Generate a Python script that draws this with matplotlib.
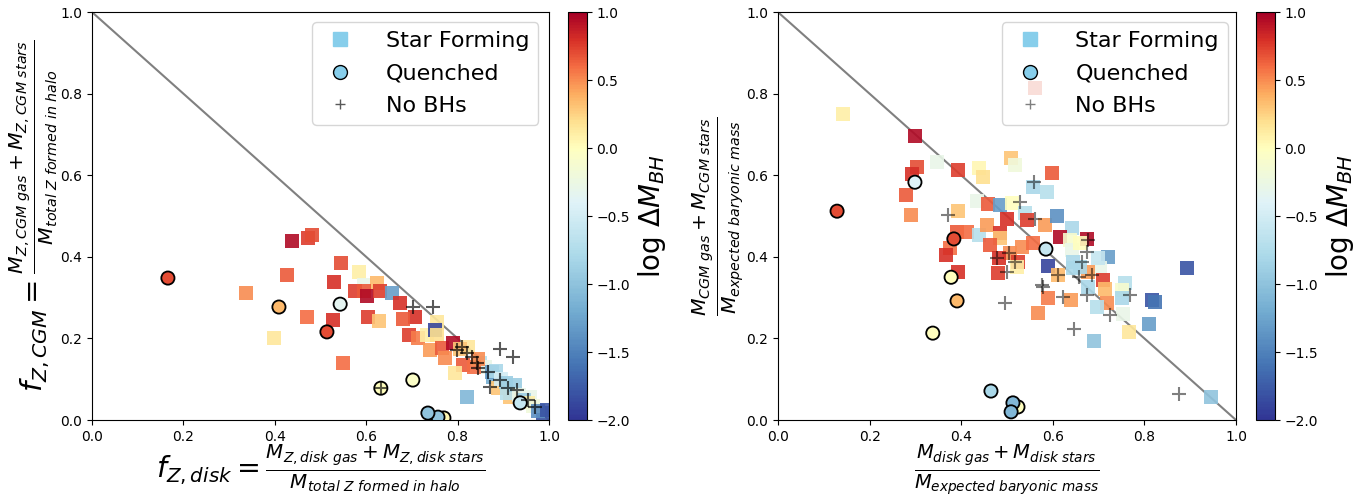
import matplotlib
matplotlib.use('Agg')
import matplotlib.pyplot as plt
import numpy as np
from matplotlib.colors import ListedColormap
from matplotlib.lines import Line2D

# ---- left panel: metal fractions ----
# star forming (squares): x, y, log dM_BH
sf_z_x = [0.337, 0.398, 0.438, 0.473, 0.481, 0.427, 0.470, 0.545, 0.530, 0.527,
          0.549, 0.584, 0.595, 0.623, 0.575, 0.595, 0.601, 0.630, 0.656, 0.604,
          0.628, 0.674, 0.707, 0.680, 0.694, 0.713, 0.733, 0.755, 0.750, 0.755,
          0.740, 0.766, 0.772, 0.790, 0.823, 0.812, 0.794, 0.877, 0.888, 0.915,
          0.820, 0.958, 0.908, 0.926, 0.987, 0.850, 0.860, 0.875, 0.885, 0.895,
          0.905, 0.935, 0.945, 0.955, 0.965, 0.975, 0.995, 0.835, 0.845, 0.805]
sf_z_y = [0.311, 0.201, 0.439, 0.446, 0.453, 0.355, 0.252, 0.385, 0.338, 0.245,
          0.140, 0.363, 0.331, 0.336, 0.316, 0.316, 0.304, 0.316, 0.311, 0.252,
          0.243, 0.287, 0.252, 0.248, 0.208, 0.201, 0.208, 0.240, 0.221, 0.208,
          0.172, 0.176, 0.152, 0.189, 0.179, 0.135, 0.115, 0.105, 0.078, 0.056,
          0.056, 0.056, 0.066, 0.086, 0.017, 0.140, 0.130, 0.118, 0.120, 0.100,
          0.092, 0.062, 0.050, 0.043, 0.035, 0.022, 0.025, 0.130, 0.150, 0.175]
sf_z_c = [0.5, 0.15, 0.95, 0.75, 0.7, 0.65, 0.6, 0.7, 0.8, 0.8,
          0.6, 0.1, -0.3, 0.35, 0.75, 0.65, 0.95, 0.75, -1.3, 0.75,
          0.3, 0.8, 0.8, 0.65, 0.75, 0.55, 0.1, 0.15, -1.9, 0.2,
          0.45, 0.65, 0.5, 0.95, 0.15, 0.65, 0.15, -1.2, 0.3, 0.3,
          -1.1, -0.3, -0.7, -0.9, -1.8, -0.7, -0.3, -1.3, -0.8, -0.5,
          -0.9, -0.3, -0.9, 0.1, -0.2, -1.4, -1.8, 0.6, 0.5, 0.3]

# quenched (circles)
q_z_x = [0.166, 0.409, 0.514, 0.543, 0.632, 0.702, 0.770, 0.757, 0.735, 0.937]
q_z_y = [0.348, 0.277, 0.216, 0.284, 0.078, 0.098, 0.005, 0.007, 0.017, 0.042]
q_z_c = [0.7, 0.35, 0.7, -0.35, 0.0, -0.05, 0.05, -1.0, -1.0, -0.6]

# no BHs (plus)
nb_z_x = [0.702, 0.746, 0.798, 0.820, 0.831, 0.842, 0.845, 0.866, 0.893, 0.871,
          0.910, 0.930, 0.893, 0.921, 0.969, 0.632, 0.810, 0.955]
nb_z_y = [0.277, 0.277, 0.172, 0.164, 0.154, 0.140, 0.127, 0.118, 0.098, 0.081,
          0.078, 0.074, 0.174, 0.154, 0.032, 0.078, 0.180, 0.050]

# ---- right panel: baryonic mass fractions ----
sf_b_x = [0.142, 0.299, 0.347, 0.303, 0.293, 0.279, 0.290, 0.393, 0.439, 0.448,
          0.509, 0.517, 0.598, 0.557, 0.587, 0.434, 0.459, 0.485, 0.511, 0.539,
          0.393, 0.500, 0.544, 0.583, 0.609, 0.642, 0.616, 0.638, 0.391, 0.413,
          0.439, 0.456, 0.485, 0.485, 0.376, 0.367, 0.463, 0.507, 0.533, 0.557,
          0.483, 0.480, 0.524, 0.522, 0.590, 0.393, 0.611, 0.644, 0.675, 0.642,
          0.720, 0.644, 0.703, 0.699, 0.677, 0.710, 0.758, 0.677, 0.714, 0.751,
          0.751, 0.817, 0.823, 0.590, 0.640, 0.718, 0.697, 0.753, 0.810, 0.766,
          0.893, 0.568, 0.690, 0.945, 0.561, 0.659, 0.660]
sf_b_y = [0.750, 0.696, 0.632, 0.620, 0.603, 0.551, 0.502, 0.613, 0.618, 0.596,
          0.642, 0.625, 0.605, 0.571, 0.559, 0.537, 0.529, 0.527, 0.532, 0.507,
          0.512, 0.493, 0.490, 0.478, 0.500, 0.471, 0.449, 0.441, 0.461, 0.461,
          0.453, 0.478, 0.458, 0.446, 0.422, 0.404, 0.429, 0.409, 0.424, 0.434,
          0.397, 0.360, 0.387, 0.375, 0.377, 0.363, 0.355, 0.372, 0.444, 0.417,
          0.400, 0.387, 0.372, 0.397, 0.363, 0.343, 0.336, 0.326, 0.321, 0.319,
          0.299, 0.294, 0.289, 0.299, 0.294, 0.287, 0.277, 0.260, 0.235, 0.216,
          0.372, 0.262, 0.194, 0.056, 0.814, 0.375, 0.435]
sf_b_c = [0.1, 0.95, -0.3, 0.7, 0.8, 0.65, 0.5, 0.75, 0.05, 0.2,
          0.3, -0.2, 0.65, -0.8, -0.7, -0.3, 0.65, -1.3, 0.0, -0.7,
          0.3, 0.8, 0.75, 0.45, -1.4, -0.8, 0.95, -0.1, 0.65, 0.6,
          -0.7, 0.45, 0.8, 0.3, 0.6, 0.8, 0.65, 0.5, 0.5, 0.6,
          0.8, 0.75, 0.75, 0.1, -1.9, 0.8, 0.35, -0.8, 0.95, -0.3,
          -1.3, -0.8, -0.3, -0.6, 0.45, 0.75, -0.7, -0.8, 0.35, -0.1,
          -0.8, -1.8, -1.6, 0.55, 0.45, 0.5, -0.7, -0.3, -1.3, 0.15,
          -1.8, 0.5, -1.0, -1.0, 0.7, -0.8, 0.0]

q_b_x = [0.129, 0.299, 0.384, 0.378, 0.391, 0.338, 0.585, 0.465, 0.524, 0.513, 0.509]
q_b_y = [0.512, 0.583, 0.444, 0.350, 0.292, 0.213, 0.419, 0.071, 0.032, 0.042, 0.020]
q_b_c = [0.7, -0.4, 0.7, 0.0, 0.35, 0.0, -0.6, -0.8, 0.0, -1.1, -1.1]

nb_b_x = [0.559, 0.528, 0.371, 0.561, 0.478, 0.504, 0.517, 0.500, 0.576, 0.611,
          0.664, 0.496, 0.646, 0.725, 0.876, 0.675, 0.686, 0.657, 0.579, 0.769,
          0.622, 0.675, 0.677]
nb_b_y = [0.583, 0.534, 0.502, 0.493, 0.397, 0.409, 0.387, 0.363, 0.331, 0.355,
          0.387, 0.287, 0.223, 0.257, 0.064, 0.412, 0.355, 0.350, 0.326, 0.306,
          0.301, 0.306, 0.441]

vmin, vmax = -2, 1
# RdYlBu_r with its pale middle put at 0 instead of the midpoint of the range
vals = np.linspace(vmin, vmax, 256)
pos = np.where(vals < 0, (vals - vmin) / (2 * -vmin), 0.5 + vals / (2 * vmax))
cmap = ListedColormap(plt.get_cmap('RdYlBu_r')(pos))

fig = plt.figure(figsize=(13.68, 4.95), dpi=100)


def panel(ax_rect, cax_rect, sx, sy, sc, qx, qy, qc, nx, ny, plus_alpha, leg_x):
    ax = fig.add_axes(ax_rect)
    cax = fig.add_axes(cax_rect)
    ax.plot([0, 1], [1, 0], color='gray', lw=1.5, zorder=1)
    pts = ax.scatter(sx, sy, c=sc, cmap=cmap, vmin=vmin, vmax=vmax, marker='s',
                     s=100, alpha=0.9, linewidths=0, zorder=2)
    ax.scatter(qx, qy, c=qc, cmap=cmap, vmin=vmin, vmax=vmax, marker='o',
               s=90, edgecolors='k', linewidths=1.3, zorder=3)
    ax.scatter(nx, ny, marker='+', color='k', alpha=plus_alpha, s=90,
               linewidths=1.5, zorder=4)
    ax.set_xlim(0, 1)
    ax.set_ylim(0, 1)
    cb = fig.colorbar(pts, cax=cax)
    cb.solids.set_alpha(1)
    cb.set_label(r'log $\Delta M_{BH}$', fontsize=20)
    handles = [
        Line2D([], [], marker='s', color='skyblue', ls='none', ms=10),
        Line2D([], [], marker='o', mfc='skyblue', mec='k', ls='none', ms=10),
        Line2D([], [], marker='+', color='k', alpha=plus_alpha, ls='none', ms=7),
    ]
    ax.legend(handles, ['Star Forming', 'Quenched', 'No BHs'], loc='upper right',
              bbox_to_anchor=(leg_x, 0.975), borderaxespad=0,
              fontsize=16, handlelength=1.7, handletextpad=1.2, labelspacing=0.55)
    return ax


ax1 = panel([0.0673, 0.1515, 0.334, 0.824], [0.415, 0.1515, 0.0139, 0.824],
            sf_z_x, sf_z_y, sf_z_c, q_z_x, q_z_y, q_z_c, nb_z_x, nb_z_y, 0.65, 0.976)
ax1.set_xlabel(r'$f_{Z,disk} = \frac{M_{Z,disk\ gas} + M_{Z,disk\ stars}}{M_{total\ Z\ formed\ in\ halo}}$',
               fontsize=20.5, labelpad=-1)
ax1.set_ylabel(r'$f_{Z,CGM} = \frac{M_{Z,CGM\ gas} + M_{Z,CGM\ stars}}{M_{total\ Z\ formed\ in\ halo}}$',
               fontsize=21, labelpad=0)

ax2 = panel([0.5687, 0.1515, 0.3348, 0.824], [0.918, 0.1515, 0.0139, 0.824],
            sf_b_x, sf_b_y, sf_b_c, q_b_x, q_b_y, q_b_c, nb_b_x, nb_b_y, 0.5, 0.982)
ax2.set_xlabel(r'$\frac{M_{disk\ gas} + M_{disk\ stars}}{M_{expected\ baryonic\ mass}}$',
               fontsize=20, labelpad=-1)
ax2.set_ylabel(r'$\frac{M_{CGM\ gas} + M_{CGM\ stars}}{M_{expected\ baryonic\ mass}}$',
               fontsize=21, labelpad=0)

fig.savefig('out.png', dpi=100)
